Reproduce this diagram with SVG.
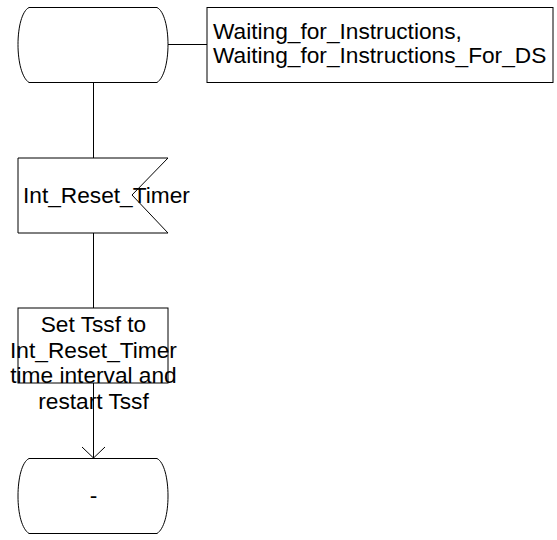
<svg xmlns="http://www.w3.org/2000/svg" width="557" height="540" viewBox="0 0 557 540">
<style>
.s{fill:#fff;stroke:#000;stroke-width:1}
.l{fill:none;stroke:#000;stroke-width:1}
.t{font-family:"Liberation Sans",Arial,sans-serif;font-size:22.7px;fill:#000}
</style>
<rect width="557" height="540" fill="#fff"/>
<g id="connectors">
<line class="l" x1="168" y1="44.5" x2="207" y2="44.5"/>
<line class="l" x1="93.5" y1="82" x2="93.5" y2="158"/>
<line class="l" x1="93.5" y1="233" x2="93.5" y2="308"/>
<line class="l" x1="93.5" y1="383" x2="93.5" y2="458"/>
<polyline class="l" points="82,447 93.5,458 105,447"/>
</g>
<g id="state_top">
<path class="s" d="M29,7.5 L157,7.5 C164,11 168,27 168,44.5 C168,62 164,78 157,82.5 L29,82.5 C22,78 18,62 18,44.5 C18,27 22,11 29,7.5 Z"/>
</g>
<g id="comment">
<rect class="s" x="207" y="7.5" width="346" height="75"/>
<text class="t" x="213" y="39">Waiting_for_Instructions,</text>
<text class="t" x="213" y="63">Waiting_for_Instructions_For_DS</text>
</g>
<g id="input">
<polygon class="s" points="18,158 168,158 132,195 168,233 18,233"/>
<text class="t" x="23" y="203">Int_Reset_Timer</text>
</g>
<g id="task">
<rect class="s" x="18" y="308" width="150" height="75"/>
<text class="t" text-anchor="middle" x="93.5" y="332">Set Tssf to</text>
<text class="t" text-anchor="middle" x="93.5" y="358">Int_Reset_Timer</text>
<text class="t" text-anchor="middle" x="93.5" y="383">time interval and</text>
<text class="t" text-anchor="middle" x="93.5" y="409">restart Tssf</text>
</g>
<g id="state_bottom">
<path class="s" d="M29,458.5 L157,458.5 C164,462 168,478 168,496 C168,514 164,529 157,533.5 L29,533.5 C22,529 18,514 18,496 C18,478 22,462 29,458.5 Z"/>
<text class="t" text-anchor="middle" x="93.5" y="503">-</text>
</g>
</svg>
